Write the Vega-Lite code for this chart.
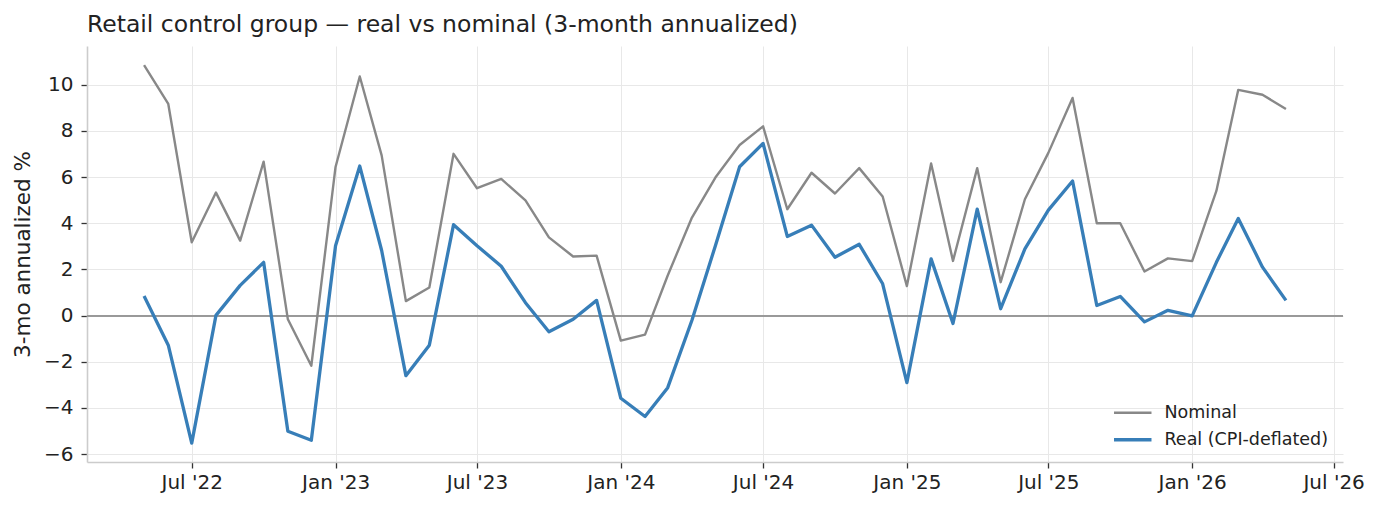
{
  "$schema": "https://vega.github.io/schema/vega-lite/v6.json",
  "width": 1256,
  "height": 416,
  "autosize": {"type": "none"},
  "padding": {"left": 87, "top": 46, "right": 36, "bottom": 49},
  "background": "white",
  "title": {
    "text": "Retail control group — real vs nominal (3-month annualized)",
    "anchor": "start",
    "frame": "group",
    "baseline": "alphabetic",
    "offset": 15,
    "dy": 24,
    "font": "DejaVu Sans",
    "fontSize": 23.5,
    "fontWeight": "normal",
    "color": "#222222"
  },
  "config": {
    "view": {"stroke": null},
    "font": "DejaVu Sans",
    "axis": {
      "labelFont": "DejaVu Sans",
      "labelFontSize": 20,
      "labelColor": "#222222",
      "titleFont": "DejaVu Sans",
      "titleFontSize": 21.5,
      "titleFontWeight": "normal",
      "titleColor": "#222222",
      "gridColor": "#e8e8e8",
      "gridWidth": 1,
      "domainColor": "#cccccc",
      "domainWidth": 1.6,
      "tickColor": "#333333",
      "tickSize": 6,
      "tickWidth": 1.3,
      "labelPadding": 5
    },
    "legend": {
      "labelFont": "DejaVu Sans",
      "labelFontSize": 17.5,
      "labelColor": "#222222",
      "labelLimit": 400
    }
  },
  "data": {
    "values": [
      {"month": "2022-05-01", "series": "Nominal", "pct": 10.85},
      {"month": "2022-06-01", "series": "Nominal", "pct": 9.17},
      {"month": "2022-07-01", "series": "Nominal", "pct": 3.18},
      {"month": "2022-08-01", "series": "Nominal", "pct": 5.33},
      {"month": "2022-09-01", "series": "Nominal", "pct": 3.25},
      {"month": "2022-10-01", "series": "Nominal", "pct": 6.67},
      {"month": "2022-11-01", "series": "Nominal", "pct": -0.16},
      {"month": "2022-12-01", "series": "Nominal", "pct": -2.17},
      {"month": "2023-01-01", "series": "Nominal", "pct": 6.44},
      {"month": "2023-02-01", "series": "Nominal", "pct": 10.36},
      {"month": "2023-03-01", "series": "Nominal", "pct": 6.94},
      {"month": "2023-04-01", "series": "Nominal", "pct": 0.63},
      {"month": "2023-05-01", "series": "Nominal", "pct": 1.22},
      {"month": "2023-06-01", "series": "Nominal", "pct": 7.01},
      {"month": "2023-07-01", "series": "Nominal", "pct": 5.52},
      {"month": "2023-08-01", "series": "Nominal", "pct": 5.92},
      {"month": "2023-09-01", "series": "Nominal", "pct": 4.99},
      {"month": "2023-10-01", "series": "Nominal", "pct": 3.39},
      {"month": "2023-11-01", "series": "Nominal", "pct": 2.56},
      {"month": "2023-12-01", "series": "Nominal", "pct": 2.60},
      {"month": "2024-01-01", "series": "Nominal", "pct": -1.08},
      {"month": "2024-02-01", "series": "Nominal", "pct": -0.82},
      {"month": "2024-03-01", "series": "Nominal", "pct": 1.74},
      {"month": "2024-04-01", "series": "Nominal", "pct": 4.25},
      {"month": "2024-05-01", "series": "Nominal", "pct": 5.98},
      {"month": "2024-06-01", "series": "Nominal", "pct": 7.39},
      {"month": "2024-07-01", "series": "Nominal", "pct": 8.20},
      {"month": "2024-08-01", "series": "Nominal", "pct": 4.61},
      {"month": "2024-09-01", "series": "Nominal", "pct": 6.19},
      {"month": "2024-10-01", "series": "Nominal", "pct": 5.29},
      {"month": "2024-11-01", "series": "Nominal", "pct": 6.39},
      {"month": "2024-12-01", "series": "Nominal", "pct": 5.16},
      {"month": "2025-01-01", "series": "Nominal", "pct": 1.28},
      {"month": "2025-02-01", "series": "Nominal", "pct": 6.59},
      {"month": "2025-03-01", "series": "Nominal", "pct": 2.37},
      {"month": "2025-04-01", "series": "Nominal", "pct": 6.39},
      {"month": "2025-05-01", "series": "Nominal", "pct": 1.45},
      {"month": "2025-06-01", "series": "Nominal", "pct": 5.04},
      {"month": "2025-07-01", "series": "Nominal", "pct": 7.05},
      {"month": "2025-08-01", "series": "Nominal", "pct": 9.43},
      {"month": "2025-09-01", "series": "Nominal", "pct": 4.00},
      {"month": "2025-10-01", "series": "Nominal", "pct": 4.00},
      {"month": "2025-11-01", "series": "Nominal", "pct": 1.91},
      {"month": "2025-12-01", "series": "Nominal", "pct": 2.48},
      {"month": "2026-01-01", "series": "Nominal", "pct": 2.36},
      {"month": "2026-02-01", "series": "Nominal", "pct": 5.40},
      {"month": "2026-03-01", "series": "Nominal", "pct": 9.78},
      {"month": "2026-04-01", "series": "Nominal", "pct": 9.57},
      {"month": "2026-05-01", "series": "Nominal", "pct": 8.95},
      {"month": "2022-05-01", "series": "Real (CPI-deflated)", "pct": 0.85},
      {"month": "2022-06-01", "series": "Real (CPI-deflated)", "pct": -1.28},
      {"month": "2022-07-01", "series": "Real (CPI-deflated)", "pct": -5.52},
      {"month": "2022-08-01", "series": "Real (CPI-deflated)", "pct": 0.01},
      {"month": "2022-09-01", "series": "Real (CPI-deflated)", "pct": 1.31},
      {"month": "2022-10-01", "series": "Real (CPI-deflated)", "pct": 2.31},
      {"month": "2022-11-01", "series": "Real (CPI-deflated)", "pct": -5.01},
      {"month": "2022-12-01", "series": "Real (CPI-deflated)", "pct": -5.40},
      {"month": "2023-01-01", "series": "Real (CPI-deflated)", "pct": 3.03},
      {"month": "2023-02-01", "series": "Real (CPI-deflated)", "pct": 6.48},
      {"month": "2023-03-01", "series": "Real (CPI-deflated)", "pct": 2.82},
      {"month": "2023-04-01", "series": "Real (CPI-deflated)", "pct": -2.60},
      {"month": "2023-05-01", "series": "Real (CPI-deflated)", "pct": -1.28},
      {"month": "2023-06-01", "series": "Real (CPI-deflated)", "pct": 3.94},
      {"month": "2023-07-01", "series": "Real (CPI-deflated)", "pct": 3.03},
      {"month": "2023-08-01", "series": "Real (CPI-deflated)", "pct": 2.14},
      {"month": "2023-09-01", "series": "Real (CPI-deflated)", "pct": 0.56},
      {"month": "2023-10-01", "series": "Real (CPI-deflated)", "pct": -0.70},
      {"month": "2023-11-01", "series": "Real (CPI-deflated)", "pct": -0.16},
      {"month": "2023-12-01", "series": "Real (CPI-deflated)", "pct": 0.66},
      {"month": "2024-01-01", "series": "Real (CPI-deflated)", "pct": -3.58},
      {"month": "2024-02-01", "series": "Real (CPI-deflated)", "pct": -4.37},
      {"month": "2024-03-01", "series": "Real (CPI-deflated)", "pct": -3.12},
      {"month": "2024-04-01", "series": "Real (CPI-deflated)", "pct": -0.20},
      {"month": "2024-05-01", "series": "Real (CPI-deflated)", "pct": 3.03},
      {"month": "2024-06-01", "series": "Real (CPI-deflated)", "pct": 6.45},
      {"month": "2024-07-01", "series": "Real (CPI-deflated)", "pct": 7.46},
      {"month": "2024-08-01", "series": "Real (CPI-deflated)", "pct": 3.43},
      {"month": "2024-09-01", "series": "Real (CPI-deflated)", "pct": 3.92},
      {"month": "2024-10-01", "series": "Real (CPI-deflated)", "pct": 2.53},
      {"month": "2024-11-01", "series": "Real (CPI-deflated)", "pct": 3.09},
      {"month": "2024-12-01", "series": "Real (CPI-deflated)", "pct": 1.38},
      {"month": "2025-01-01", "series": "Real (CPI-deflated)", "pct": -2.90},
      {"month": "2025-02-01", "series": "Real (CPI-deflated)", "pct": 2.46},
      {"month": "2025-03-01", "series": "Real (CPI-deflated)", "pct": -0.34},
      {"month": "2025-04-01", "series": "Real (CPI-deflated)", "pct": 4.61},
      {"month": "2025-05-01", "series": "Real (CPI-deflated)", "pct": 0.30},
      {"month": "2025-06-01", "series": "Real (CPI-deflated)", "pct": 2.89},
      {"month": "2025-07-01", "series": "Real (CPI-deflated)", "pct": 4.57},
      {"month": "2025-08-01", "series": "Real (CPI-deflated)", "pct": 5.83},
      {"month": "2025-09-01", "series": "Real (CPI-deflated)", "pct": 0.44},
      {"month": "2025-10-01", "series": "Real (CPI-deflated)", "pct": 0.83},
      {"month": "2025-11-01", "series": "Real (CPI-deflated)", "pct": -0.27},
      {"month": "2025-12-01", "series": "Real (CPI-deflated)", "pct": 0.23},
      {"month": "2026-01-01", "series": "Real (CPI-deflated)", "pct": -0.01},
      {"month": "2026-02-01", "series": "Real (CPI-deflated)", "pct": 2.31},
      {"month": "2026-03-01", "series": "Real (CPI-deflated)", "pct": 4.21},
      {"month": "2026-04-01", "series": "Real (CPI-deflated)", "pct": 2.10},
      {"month": "2026-05-01", "series": "Real (CPI-deflated)", "pct": 0.66}
    ]
  },
  "encoding": {
    "x": {
      "field": "month",
      "type": "temporal",
      "title": null,
      "scale": {
        "type": "utc",
        "domain": [
          {"year": 2022, "month": 2, "date": 17, "utc": true},
          {"year": 2026, "month": 7, "date": 13, "utc": true}
        ],
        "nice": false
      },
      "axis": {
        "format": "%b '%y",
        "values": [
          {"year": 2022, "month": 7, "date": 1, "utc": true},
          {"year": 2023, "month": 1, "date": 1, "utc": true},
          {"year": 2023, "month": 7, "date": 1, "utc": true},
          {"year": 2024, "month": 1, "date": 1, "utc": true},
          {"year": 2024, "month": 7, "date": 1, "utc": true},
          {"year": 2025, "month": 1, "date": 1, "utc": true},
          {"year": 2025, "month": 7, "date": 1, "utc": true},
          {"year": 2026, "month": 1, "date": 1, "utc": true},
          {"year": 2026, "month": 7, "date": 1, "utc": true}
        ],
        "grid": true,
        "labelFlush": false,
        "labelOverlap": false,
        "labelPadding": 4
      }
    }
  },
  "layer": [
    {
      "mark": {"type": "rule", "color": "#999999", "strokeWidth": 1.5},
      "encoding": {"y": {"datum": 0}, "x": null}
    },
    {
      "mark": {"type": "line", "strokeJoin": "round", "strokeCap": "butt"},
      "encoding": {
        "y": {
          "field": "pct",
          "type": "quantitative",
          "title": "3-mo annualized %",
          "scale": {"domain": [-6.34, 11.68], "nice": false, "zero": false},
          "axis": {
            "values": [-6, -4, -2, 0, 2, 4, 6, 8, 10],
            "grid": true,
            "labelPadding": 8,
            "titlePadding": 9
          }
        },
        "color": {
          "field": "series",
          "type": "nominal",
          "scale": {
            "domain": ["Nominal", "Real (CPI-deflated)"],
            "range": ["#888888", "#377eb8"]
          },
          "legend": {
            "title": null,
            "orient": "none",
            "legendX": 1037,
            "legendY": 358,
            "padding": 0,
            "symbolType": "M-3,0H3",
            "symbolSize": 156,
            "symbolStrokeWidth": 2.8,
            "labelOffset": 23,
            "rowPadding": 8
          }
        },
        "strokeWidth": {
          "field": "series",
          "type": "nominal",
          "scale": {
            "domain": ["Nominal", "Real (CPI-deflated)"],
            "range": [2.4, 3.3]
          },
          "legend": null
        }
      }
    }
  ]
}
